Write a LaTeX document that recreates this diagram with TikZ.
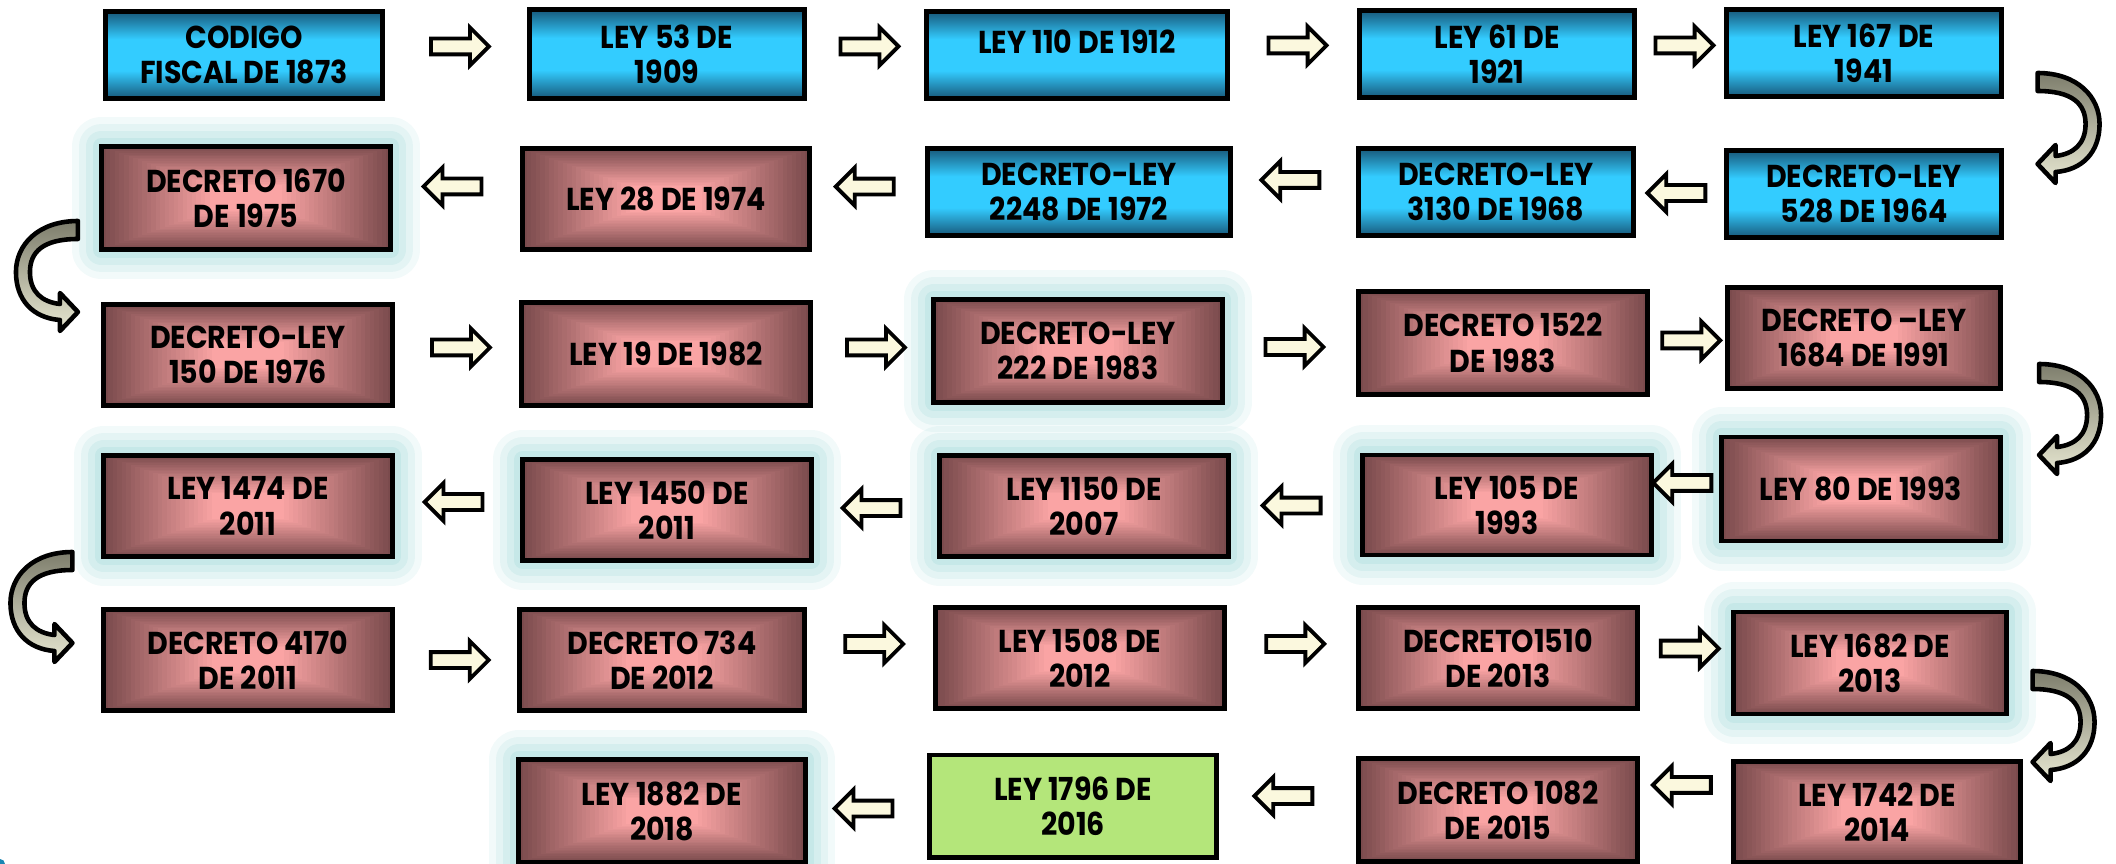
\documentclass[tikz,border=0pt]{standalone}
\usepackage{fontspec}
\usetikzlibrary{shapes.arrows,calc}
\newfontfamily\boxfont{Poppins}[FakeStretch=0.9]
\definecolor{blueLight}{HTML}{33CCFF}
\definecolor{blueDark}{HTML}{17587A}
\definecolor{pinkLight}{HTML}{FAA4A4}
\definecolor{pinkDark}{HTML}{7B4B4D}
\definecolor{limeFill}{HTML}{B4E67A}
\definecolor{glowCol}{HTML}{A9DCDC}
\definecolor{arrowFill}{HTML}{FBF8DE}
\definecolor{curveDark}{HTML}{7D7D6C}
\definecolor{curveLight}{HTML}{E8E8D2}
\definecolor{cornerBlue}{HTML}{1A86B3}
\pgfdeclareverticalshading{blueBar}{100bp}{color(0bp)=(blueDark); color(25bp)=(blueDark); color(41bp)=(blueLight); color(59bp)=(blueLight); color(75bp)=(blueDark); color(100bp)=(blueDark)}
\begin{document}
\begin{tikzpicture}[x=0.01cm, y=-0.01cm,
    box/.style={draw=black, line width=1.4pt, inner sep=0pt, align=center,
      font=\boxfont\bfseries\fontsize{9pt}{10pt}\selectfont,
      minimum width=2.88cm, minimum height=1.01cm},
    blueBox/.style={box, shading=blueBar, minimum width=2.74cm, minimum height=0.87cm},
    pinkBox/.style={box, path picture={
        \foreach \k [evaluate=\k as \p using int(\k*100/24)] in {0,...,24}
          \fill[pinkLight!\p!pinkDark]
            ($(path picture bounding box.south west)!\k/64!(path picture bounding box.north east)$)
            rectangle
            ($(path picture bounding box.north east)!\k/64!(path picture bounding box.south west)$);
      }},
    limeBox/.style={box, fill=limeFill},
    glow/.style={
      preaction={draw=glowCol, line width=17pt, draw opacity=0.15, line join=round},
      preaction={draw=glowCol, line width=13pt, draw opacity=0.2, line join=round},
      preaction={draw=glowCol, line width=9pt, draw opacity=0.25, line join=round},
      preaction={draw=glowCol, line width=5pt, draw opacity=0.35, line join=round}},
    arrR/.style={single arrow, draw=black, line width=1.1pt, fill=arrowFill,
      minimum height=0.58cm, inner sep=0.06cm, single arrow head extend=0.11cm},
    arrL/.style={arrR, shape border rotate=180},
    curveArr/.style={draw=black, line width=1.3pt, line join=round,
      top color=curveDark, bottom color=curveLight},
    pics/turnR/.style={code={
        \draw[curveArr] (0,-9) .. controls (40,-9) and (62,15) .. (62,42)
          .. controls (62,70) and (45,88) .. (18,90) -- (18,101) -- (0,82) -- (18,63) -- (18,74)
          .. controls (36,72) and (48,62) .. (48,42)
          .. controls (48,22) and (35,9) .. (0,9) -- cycle;
      }}]
  \useasboundingbox (0,0) rectangle (2116,864);

  % Row 1
  \node[blueBox, minimum width=2.76cm] (codigo) at (244,55) {CODIGO\\FISCAL DE 1873};
  \node[blueBox, minimum height=0.89cm] (ley53) at (667,54) {LEY 53 DE\\1909};
  \node[blueBox, minimum width=3.00cm, text depth=0.26cm] (ley110) at (1077,55) {LEY 110 DE 1912};
  \node[blueBox] (ley61) at (1497,54) {LEY 61 DE\\1921};
  \node[blueBox] (ley167) at (1864,53) {LEY 167 DE\\1941};
  \path (codigo) -- node[arrR, yshift=0.08cm] {} (ley53);
  \path (ley53) -- node[arrR, yshift=0.08cm] {} (ley110);
  \path (ley110) -- node[arrR, yshift=0.09cm] {} (ley61);
  \path (ley61) -- node[arrR, yshift=0.08cm] {} (ley167);
  \pic at ($(ley167.east)+(34,29)$) {turnR};

  % Row 2
  \node[blueBox] (dl528) at (1864,194) {DECRETO-LEY\\528 DE 1964};
  \node[blueBox, minimum width=2.75cm] (dl3130) at (1496,192) {DECRETO-LEY\\3130 DE 1968};
  \node[blueBox, minimum width=3.02cm] (dl2248) at (1079,192) {DECRETO-LEY\\2248 DE 1972};
  \node[pinkBox, minimum width=2.87cm] (ley28) at (666,199) {LEY 28 DE 1974};
  \node[pinkBox, glow, minimum width=2.89cm, minimum height=1.03cm] (dec1670) at (246,198) {DECRETO 1670\\DE 1975};
  \path (dl528) -- node[arrL] {} (dl3130);
  \path (dl3130) -- node[arrL, yshift=0.12cm] {} (dl2248);
  \path (dl2248) -- node[arrL, yshift=0.09cm] {} (ley28);
  \path (ley28) -- node[arrL, yshift=0.12cm] {} (dec1670);
  \pic[xscale=-1] at ($(dec1670.west)+(-21,32)$) {turnR};

  % Row 3
  \node[pinkBox] (dl150) at (248,355) {DECRETO-LEY\\150 DE 1976};
  \node[pinkBox, minimum height=1.03cm] (ley19) at (666,354) {LEY 19 DE 1982};
  \node[pinkBox, glow, minimum height=1.03cm] (dl222) at (1078,351) {DECRETO-LEY\\222 DE 1983};
  \node[pinkBox, minimum height=1.03cm] (dec1522) at (1503,343) {DECRETO 1522\\DE 1983};
  \node[pinkBox, minimum width=2.73cm] (dl1684) at (1864,338) {DECRETO –LEY\\1684 DE 1991};
  \path (dl150) -- node[arrR, yshift=0.07cm] {} (ley19);
  \path (ley19) -- node[arrR, yshift=0.05cm] {} (dl222);
  \path (dl222) -- node[arrR] {} (dec1522);
  \path (dec1522) -- node[arrR] {} (dl1684);
  \pic at ($(dl1684.east)+(36,35)$) {turnR};

  % Row 4
  \node[pinkBox, glow, minimum width=2.79cm, minimum height=1.04cm] (ley80) at (1861,489) {LEY 80 DE 1993};
  \node[pinkBox, glow, minimum height=1.00cm] (ley105) at (1507,505) {LEY 105 DE\\1993};
  \node[pinkBox, glow] (ley1150) at (1084,506) {LEY 1150 DE\\2007};
  \node[pinkBox, glow] (ley1450) at (667,510) {LEY 1450 DE\\2011};
  \node[pinkBox, glow] (ley1474) at (248,506) {LEY 1474 DE\\2011};
  \path (ley80) -- node[arrL, yshift=0.14cm] {} (ley105);
  \path (ley105) -- node[arrL] {} (ley1150);
  \path (ley1150) -- node[arrL] {} (ley1450);
  \path (ley1450) -- node[arrL, yshift=0.06cm] {} (ley1474);
  \pic[xscale=-1] at ($(ley1474.west)+(-29,55)$) {turnR};

  % Row 5
  \node[pinkBox] (dec4170) at (248,660) {DECRETO 4170\\DE 2011};
  \node[pinkBox, minimum width=2.85cm] (dec734) at (662,660) {DECRETO 734\\DE 2012};
  \node[pinkBox] (ley1508) at (1080,658) {LEY 1508 DE\\2012};
  \node[pinkBox, minimum width=2.79cm] (dec1510) at (1498,658) {DECRETO1510\\DE 2013};
  \node[pinkBox, glow, minimum width=2.72cm, minimum height=1.02cm] (ley1682) at (1870,663) {LEY 1682 DE\\2013};
  \path (dec4170) -- node[arrR] {} (dec734);
  \path (dec734) -- node[arrR, yshift=0.15cm] {} (ley1508);
  \path (ley1508) -- node[arrR, yshift=0.14cm] {} (dec1510);
  \path (dec1510) -- node[arrR, yshift=0.12cm] {} (ley1682);
  \pic at ($(ley1682.east)+(24,17)$) {turnR};

  % Row 6
  \node[pinkBox, minimum width=2.86cm] (ley1742) at (1877,812) {LEY 1742 DE\\2014};
  \node[pinkBox, minimum width=2.79cm, minimum height=1.03cm] (dec1082) at (1498,810) {DECRETO 1082\\DE 2015};
  \node[limeBox, minimum width=2.86cm, minimum height=1.02cm] (ley1796) at (1073,806) {LEY 1796 DE\\2016};
  \node[pinkBox, glow, minimum width=2.86cm, minimum height=1.03cm] (ley1882) at (662,811) {LEY 1882 DE\\2018};
  \path (ley1742) -- node[arrL, yshift=0.26cm] {} (dec1082);
  \path (dec1082) -- node[arrL, yshift=0.12cm] {} (ley1796);
  \path (ley1796) -- node[arrL] {} (ley1882);

  % corner mark
  \fill[cornerBlue] (0,864) circle (5);
\end{tikzpicture}
\end{document}
